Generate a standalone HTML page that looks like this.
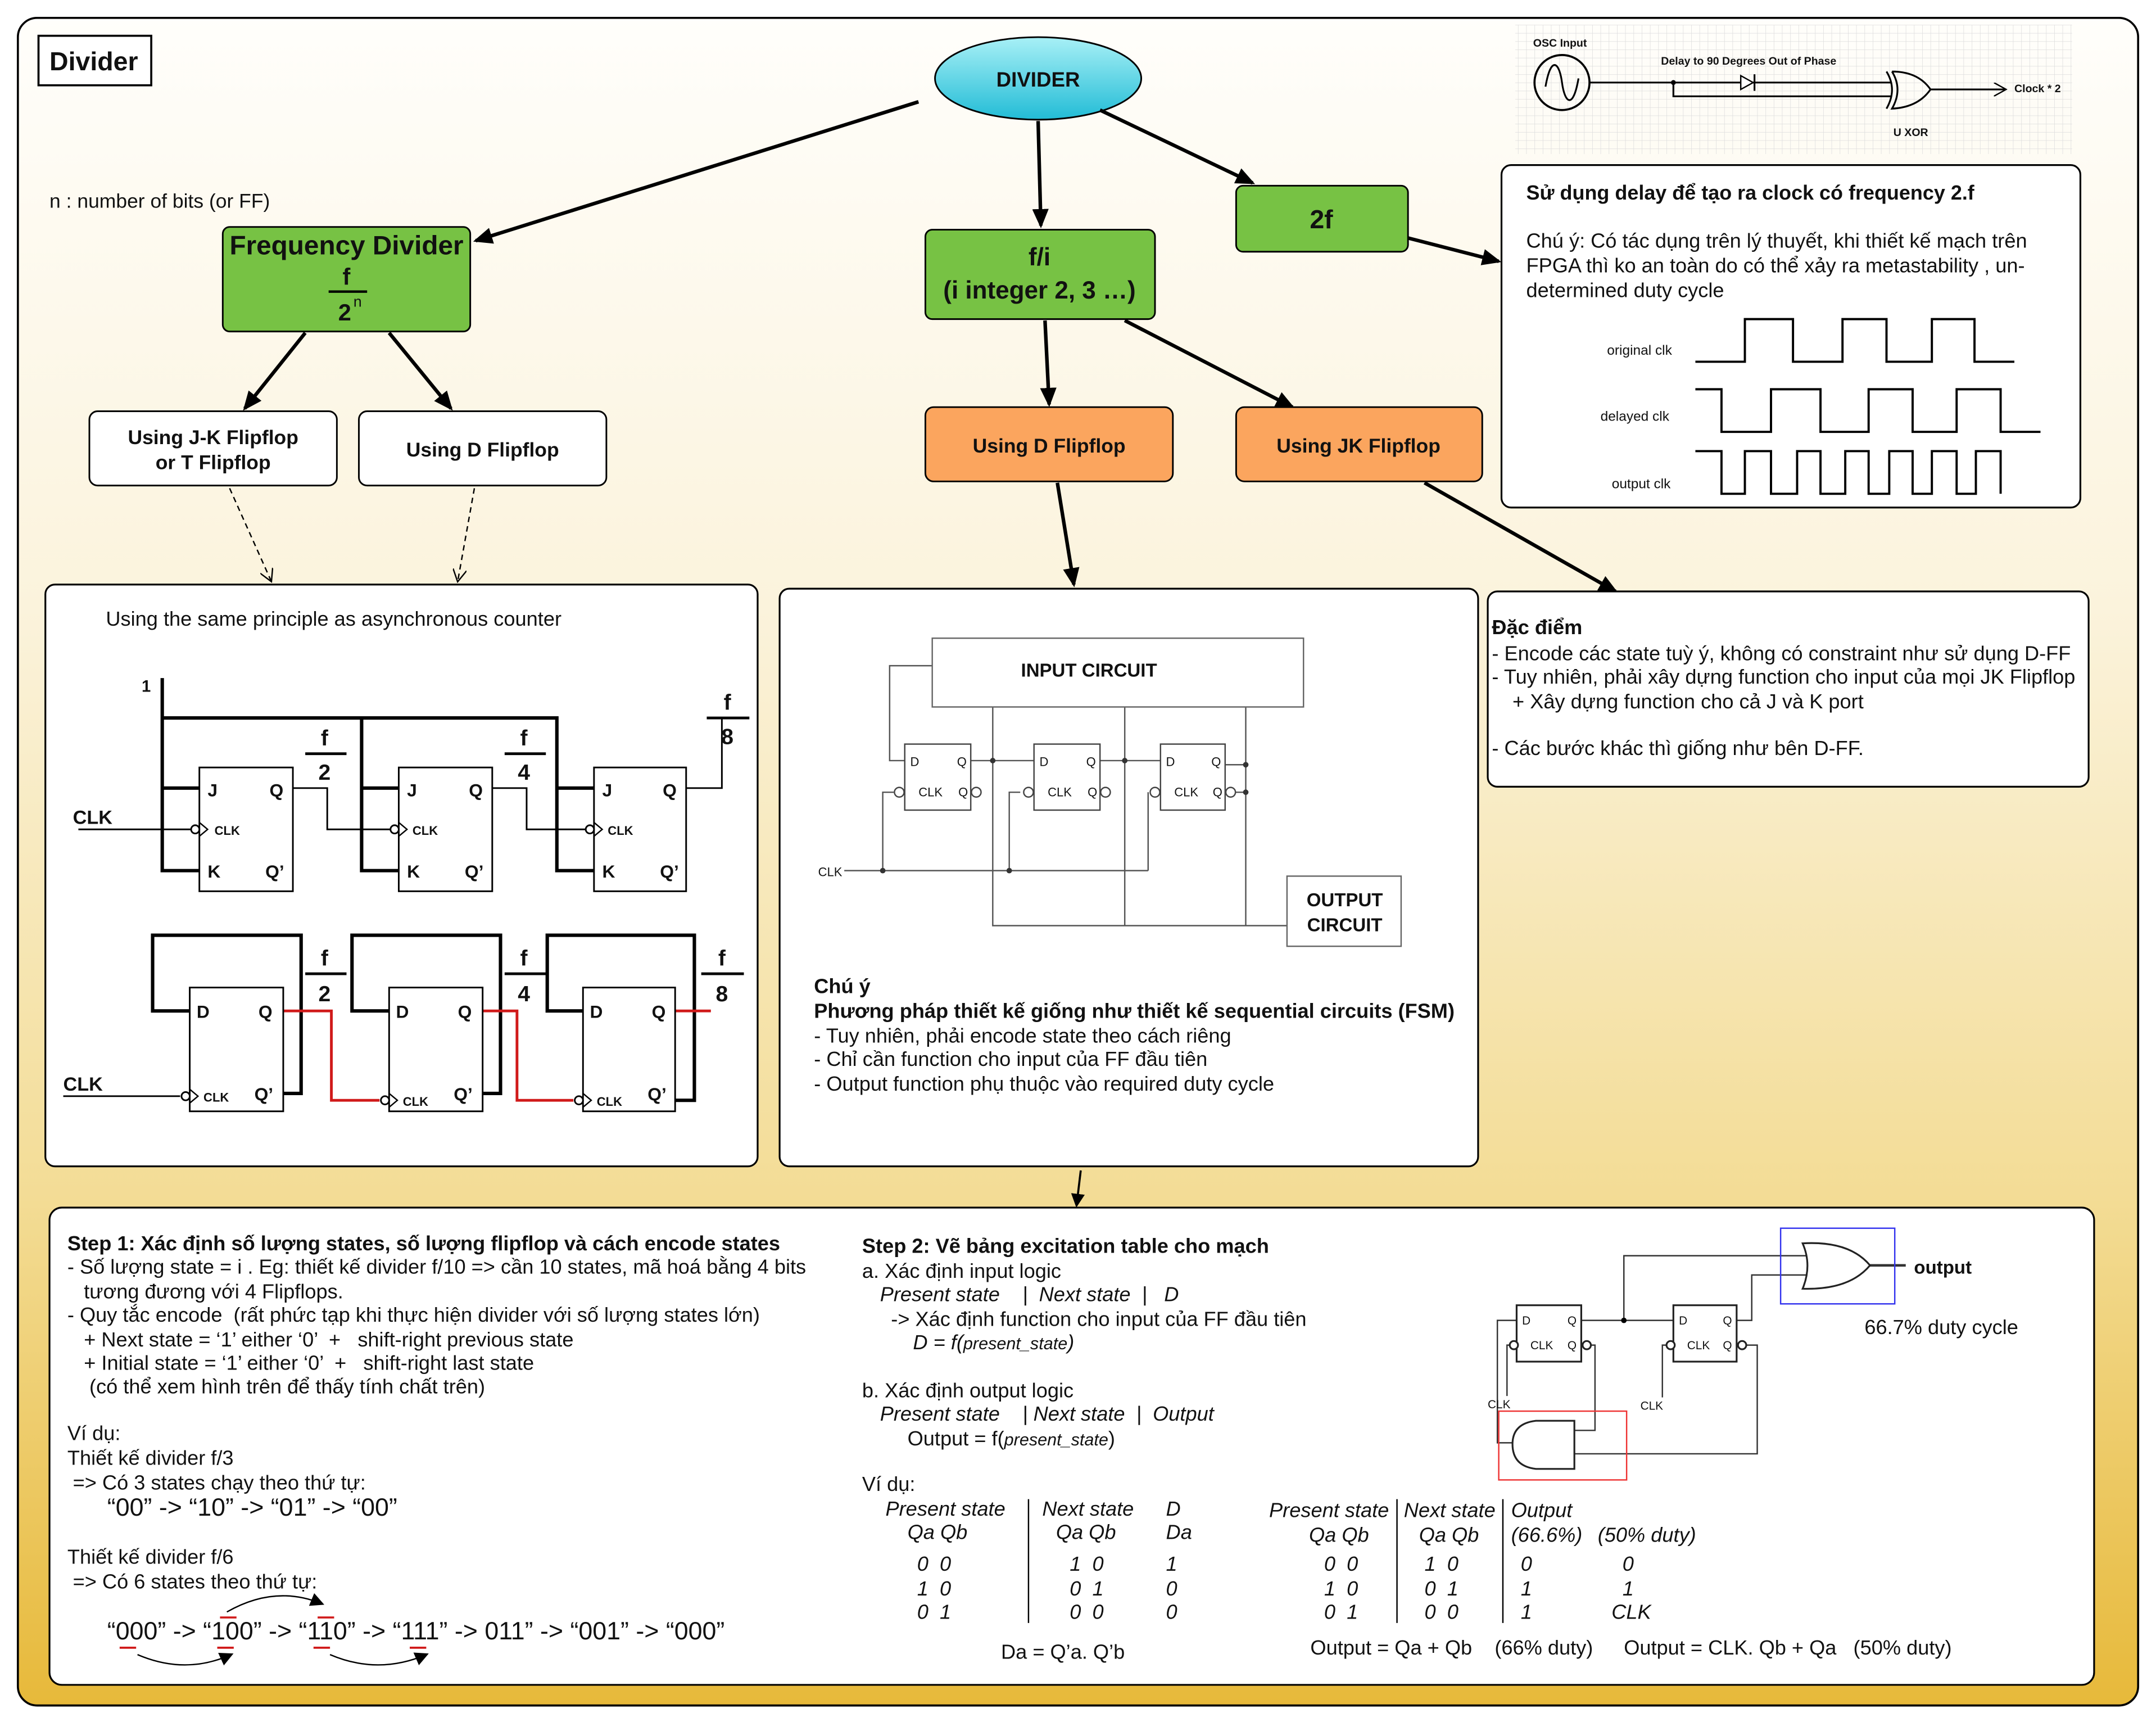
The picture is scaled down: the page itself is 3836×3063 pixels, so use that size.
<!DOCTYPE html>
<html><head><meta charset="utf-8"><style>
html,body{margin:0;padding:0;background:#fff;}
svg{display:block;}
text{font-family:"Liberation Sans","DejaVu Sans",sans-serif;fill:#111;white-space:pre;}
.b{font-weight:bold;}
.i{font-style:italic;}
</style></head><body>
<svg width="3836" height="3063" viewBox="0 0 1568 1252" xmlns="http://www.w3.org/2000/svg" xml:space="preserve">
<defs>
<linearGradient id="bg" x1="0" y1="0" x2="0" y2="1">
<stop offset="0" stop-color="#fffefb"/><stop offset="0.35" stop-color="#fbf3dc"/><stop offset="0.7" stop-color="#f3dc95"/><stop offset="1" stop-color="#e7b93a"/>
</linearGradient>
<linearGradient id="cy" x1="0" y1="0" x2="0" y2="1">
<stop offset="0" stop-color="#a8f0f6"/><stop offset="1" stop-color="#22bcd6"/>
</linearGradient>
<pattern id="grid" width="6" height="6" patternUnits="userSpaceOnUse"><path d="M6 0H0V6" fill="none" stroke="#dcdcdc" stroke-width="0.6"/></pattern>
<marker id="ah" markerWidth="10" markerHeight="10" refX="8" refY="5" orient="auto" markerUnits="userSpaceOnUse"><path d="M0,0 L10,5 L0,10 z" fill="#000"/></marker>
<marker id="ah2" markerWidth="14" markerHeight="12" refX="12" refY="6" orient="auto" markerUnits="userSpaceOnUse"><path d="M0,0 L14,6 L0,12 z" fill="#000"/></marker>
<marker id="op" markerWidth="10" markerHeight="10" refX="8" refY="5" orient="auto" markerUnits="userSpaceOnUse"><path d="M0,0 L9,5 L0,10" fill="none" stroke="#000"/></marker>
</defs>
<rect x="0" y="0" width="1568" height="1252" fill="#fff"/>
<rect x="13" y="13" width="1542" height="1227" rx="14" fill="url(#bg)" stroke="#000" stroke-width="1.5"/>

<!-- title -->
<rect x="28" y="26" width="82" height="36" fill="#fff" stroke="#000" stroke-width="1.5"/>
<text x="36" y="51" class="b" font-size="19">Divider</text>
<ellipse cx="755" cy="57" rx="75" ry="30" fill="url(#cy)" stroke="#000" stroke-width="1.2"/>
<text x="755" y="63" class="b" font-size="15" text-anchor="middle">DIVIDER</text>
<text x="36" y="151" font-size="14.5">n : number of bits (or FF)</text>

<!-- main arrows -->
<g stroke="#000" stroke-width="2.6" fill="none">
<line x1="668" y1="74" x2="346" y2="175" marker-end="url(#ah2)"/>
<line x1="755" y1="88" x2="757" y2="164" marker-end="url(#ah2)"/>
<line x1="800" y1="80" x2="911" y2="133" marker-end="url(#ah2)"/>
<line x1="1024" y1="173" x2="1090" y2="190" marker-end="url(#ah2)"/>
<line x1="222" y1="242" x2="178" y2="297" marker-end="url(#ah2)"/>
<line x1="283" y1="242" x2="328" y2="297" marker-end="url(#ah2)"/>
<line x1="760" y1="233" x2="763" y2="294" marker-end="url(#ah2)"/>
<line x1="818" y1="233" x2="940" y2="296" marker-end="url(#ah2)"/>
<line x1="769" y1="351" x2="781" y2="425" marker-end="url(#ah2)"/>
<line x1="1036" y1="351" x2="1175" y2="430" marker-end="url(#ah2)"/>
<line x1="786" y1="851" x2="783" y2="876" stroke-width="1.5" marker-end="url(#ah)"/>
</g>
<g stroke="#000" stroke-width="1" stroke-dasharray="4,3" fill="none">
<line x1="167" y1="355" x2="197" y2="422" marker-end="url(#op)"/>
<line x1="345" y1="355" x2="333" y2="422" marker-end="url(#op)"/>
</g>

<!-- green boxes -->
<rect x="162" y="165" width="180" height="76" rx="5" fill="#77c244" stroke="#000" stroke-width="1.2"/>
<text x="252" y="185" class="b" font-size="19.5" text-anchor="middle">Frequency Divider</text>
<text x="252" y="207" class="b" font-size="17" text-anchor="middle">f</text>
<line x1="239" y1="212" x2="267" y2="212" stroke="#000" stroke-width="1.8"/>
<text x="246" y="233" class="b" font-size="17">2</text><text x="257" y="223" font-size="11">n</text>
<rect x="673" y="167" width="167" height="65" rx="5" fill="#77c244" stroke="#000" stroke-width="1.2"/>
<text x="756" y="193" class="b" font-size="18" text-anchor="middle">f/i</text>
<text x="756" y="217" class="b" font-size="18" text-anchor="middle">(i integer 2, 3 …)</text>
<rect x="899" y="135" width="125" height="48" rx="5" fill="#77c244" stroke="#000" stroke-width="1.2"/>
<text x="961" y="166" class="b" font-size="19" text-anchor="middle">2f</text>

<rect x="65" y="299" width="180" height="54" rx="6" fill="#fff" stroke="#000" stroke-width="1.2"/>
<text x="155" y="323" class="b" font-size="14.5" text-anchor="middle">Using J-K Flipflop</text>
<text x="155" y="341" class="b" font-size="14.5" text-anchor="middle">or T Flipflop</text>
<rect x="261" y="299" width="180" height="54" rx="6" fill="#fff" stroke="#000" stroke-width="1.2"/>
<text x="351" y="332" class="b" font-size="14.5" text-anchor="middle">Using D Flipflop</text>
<rect x="673" y="296" width="180" height="54" rx="6" fill="#fba55e" stroke="#000" stroke-width="1.2"/>
<text x="763" y="329" class="b" font-size="14.5" text-anchor="middle">Using D Flipflop</text>
<rect x="899" y="296" width="179" height="54" rx="6" fill="#fba55e" stroke="#000" stroke-width="1.2"/>
<text x="988" y="329" class="b" font-size="14.5" text-anchor="middle">Using JK Flipflop</text>

<!-- top-right circuit -->
<rect x="1102" y="18" width="405" height="94" fill="url(#grid)"/>
<text x="1115" y="34" class="b" font-size="8">OSC Input</text>
<text x="1208" y="47" class="b" font-size="8">Delay to 90 Degrees Out of Phase</text>
<circle cx="1136" cy="60" r="20" fill="none" stroke="#000" stroke-width="1.5"/>
<path d="M1124 63 C1128 40 1134 45 1136 60 C1138 75 1144 80 1148 57" fill="none" stroke="#000" stroke-width="1.3"/>
<g stroke="#000" stroke-width="1.3" fill="none">
<line x1="1156" y1="60" x2="1375" y2="60"/>
<polyline points="1217,60 1217,70 1375,70"/>
<path d="M1372 52 Q1380 65 1372 79"/>
<path d="M1376 52 Q1384 65 1376 79 Q1395 78 1404 65 Q1395 52 1376 52"/>
<line x1="1404" y1="65" x2="1458" y2="65" marker-end="url(#op)"/>
</g>
<circle cx="1217" cy="60" r="1.8"/>
<path d="M1266 55 L1275 60 L1266 65 z" fill="#fff" stroke="#000"/><line x1="1276" y1="54" x2="1276" y2="66" stroke="#000" stroke-width="1.3"/>
<text x="1465" y="67" class="b" font-size="8">Clock * 2</text>
<text x="1377" y="99" class="b" font-size="8">U XOR</text>

<!-- top-right box -->
<rect x="1092" y="120" width="421" height="249" rx="7" fill="#fff" stroke="#000" stroke-width="1.3"/>
<text x="1110" y="145" class="b" font-size="14.7">Sử dụng delay để tạo ra clock có frequency 2.f</text>
<text x="1110" y="180" font-size="14.8">Chú ý: Có tác dụng trên lý thuyết, khi thiết kế mạch trên</text>
<text x="1110" y="198" font-size="14.8">FPGA thì ko an toàn do có thể xảy ra metastability , un-</text>
<text x="1110" y="216" font-size="14.8">determined duty cycle</text>
<text x="1216" y="258" font-size="10" text-anchor="end">original clk</text>
<text x="1214" y="306" font-size="10" text-anchor="end">delayed clk</text>
<text x="1215" y="355" font-size="10" text-anchor="end">output clk</text>
<g stroke="#000" stroke-width="1.6" fill="none">
<polyline points="1233,263 1269,263 1269,232 1304,232 1304,263 1340,263 1340,232 1372,232 1372,263 1405,263 1405,232 1436,232 1436,263 1465,263"/>
<polyline points="1233,283 1252,283 1252,314 1288,314 1288,283 1324,283 1324,314 1359,314 1359,283 1391,283 1391,314 1423,314 1423,283 1455,283 1455,314 1484,314"/>
<polyline points="1233,328 1252,328 1252,359 1269,359 1269,328 1288,328 1288,359 1307,359 1307,328 1324,328 1324,359 1342,359 1342,328 1359,328 1359,359 1374,359 1374,328 1391,328 1391,359 1405,359 1405,328 1423,328 1423,359 1437,359 1437,328 1455,328 1455,359"/>
</g>

<!-- left panel -->
<rect x="33" y="425" width="518" height="423" rx="7" fill="#fff" stroke="#000" stroke-width="1.3"/>
<text x="77" y="455" font-size="14.8">Using the same principle as asynchronous counter</text>
<text x="103" y="503" class="b" font-size="12">1</text>
<g stroke="#000" stroke-width="2.5" fill="none">
<polyline points="118,493 118,633 145,633"/>
<line x1="118" y1="573" x2="145" y2="573"/>
<polyline points="118,522 405,522 405,633 432,633"/>
<line x1="405" y1="573" x2="432" y2="573"/>
<polyline points="263,522 263,633 290,633"/>
<line x1="263" y1="573" x2="290" y2="573"/>
</g>
<g stroke="#000" stroke-width="1.2" fill="none">
<line x1="57" y1="603" x2="139" y2="603"/>
<polyline points="213,573 238,573 238,603 284,603"/>
<polyline points="358,573 383,573 383,603 426,603"/>
<polyline points="499,573 525,573 525,522"/>
</g>
<g fill="#fff" stroke="#000" stroke-width="1.2">
<rect x="145" y="558" width="68" height="90"/><rect x="290" y="558" width="68" height="90"/><rect x="432" y="558" width="67" height="90"/>
<circle cx="142" cy="603" r="3"/><circle cx="287" cy="603" r="3"/><circle cx="429" cy="603" r="3"/>
</g>
<g stroke="#000" stroke-width="1" fill="none">
<polyline points="145,598 151,603 145,608"/><polyline points="290,598 296,603 290,608"/><polyline points="432,598 438,603 432,608"/>
</g>
<g font-size="13" class="b">
<text x="151" y="579">J</text><text x="196" y="579">Q</text><text x="151" y="638">K</text><text x="193" y="638">Q’</text>
<text x="296" y="579">J</text><text x="341" y="579">Q</text><text x="296" y="638">K</text><text x="338" y="638">Q’</text>
<text x="438" y="579">J</text><text x="482" y="579">Q</text><text x="438" y="638">K</text><text x="480" y="638">Q’</text>
</g>
<g font-size="9" class="b"><text x="156" y="607">CLK</text><text x="300" y="607">CLK</text><text x="442" y="607">CLK</text></g>
<text x="53" y="599" class="b" font-size="14">CLK</text>
<g class="b" font-size="16" text-anchor="middle">
<text x="236" y="542">f</text><text x="236" y="567">2</text>
<text x="381" y="542">f</text><text x="381" y="567">4</text>
<text x="529" y="516">f</text><text x="529" y="541">8</text>
<text x="236" y="702">f</text><text x="236" y="728">2</text>
<text x="381" y="702">f</text><text x="381" y="728">4</text>
<text x="525" y="702">f</text><text x="525" y="728">8</text>
</g>
<g stroke="#000" stroke-width="2">
<line x1="222" y1="548" x2="252" y2="548"/><line x1="367" y1="548" x2="397" y2="548"/><line x1="514" y1="522" x2="545" y2="522"/>
<line x1="222" y1="708" x2="252" y2="708"/><line x1="367" y1="708" x2="397" y2="708"/><line x1="510" y1="708" x2="541" y2="708"/>
</g>
<!-- D FFs -->
<g stroke="#000" stroke-width="2.5" fill="none">
<polyline points="138,735 111,735 111,680 219,680 219,795 206,795"/>
<polyline points="283,735 256,735 256,680 364,680 364,795 351,795"/>
<polyline points="424,735 398,735 398,680 505,680 505,800 491,800"/>
</g>
<g stroke="#d01a1a" stroke-width="2" fill="none">
<polyline points="206,735 241,735 241,800 276,800"/>
<polyline points="351,735 376,735 376,800 417,800"/>
<line x1="491" y1="735" x2="517" y2="735"/>
</g>
<line x1="46" y1="797" x2="131" y2="797" stroke="#000" stroke-width="1.2"/>
<g fill="#fff" stroke="#000" stroke-width="1.2">
<rect x="138" y="718" width="68" height="90"/><rect x="283" y="718" width="68" height="90"/><rect x="424" y="718" width="67" height="90"/>
<circle cx="135" cy="797" r="3"/><circle cx="280" cy="800" r="3"/><circle cx="421" cy="800" r="3"/>
</g>
<g stroke="#000" stroke-width="1" fill="none">
<polyline points="138,792 144,797 138,802"/><polyline points="283,795 289,800 283,805"/><polyline points="424,795 430,800 424,805"/>
</g>
<g font-size="13" class="b">
<text x="143" y="740">D</text><text x="188" y="740">Q</text><text x="185" y="800">Q’</text>
<text x="288" y="740">D</text><text x="333" y="740">Q</text><text x="330" y="800">Q’</text>
<text x="429" y="740">D</text><text x="474" y="740">Q</text><text x="471" y="800">Q’</text>
</g>
<g font-size="9" class="b"><text x="148" y="801">CLK</text><text x="293" y="804">CLK</text><text x="434" y="804">CLK</text></g>
<text x="46" y="793" class="b" font-size="14">CLK</text>

<!-- middle panel -->
<rect x="567" y="428" width="508" height="420" rx="7" fill="#fff" stroke="#000" stroke-width="1.3"/>
<g stroke="#555" stroke-width="1" fill="none">
<polyline points="678,484 647,484 647,553 658,553"/>
<line x1="706" y1="553" x2="752" y2="553"/><line x1="800" y1="553" x2="844" y2="553"/>
<polyline points="722,514 722,673 936,673"/>
<line x1="818" y1="514" x2="818" y2="673"/>
<polyline points="891,556 906,556 906,673"/>
<line x1="906" y1="514" x2="906" y2="556"/>
<line x1="891" y1="576" x2="906" y2="576"/>
<line x1="614" y1="633" x2="835" y2="633"/>
<polyline points="642,633 642,576 650,576"/>
<polyline points="734,633 734,576 742,576"/>
<polyline points="835,633 835,576"/>
</g>
<g fill="#333"><circle cx="642" cy="633" r="2"/><circle cx="734" cy="633" r="2"/><circle cx="722" cy="553" r="2"/><circle cx="818" cy="553" r="2"/><circle cx="906" cy="556" r="2"/><circle cx="906" cy="576" r="2"/></g>
<rect x="678" y="464" width="270" height="50" fill="#fff" stroke="#666"/>
<text x="792" y="492" class="b" font-size="13.5" text-anchor="middle" fill="#333">INPUT CIRCUIT</text>
<g fill="#fff" stroke="#444" stroke-width="1">
<rect x="658" y="541" width="48" height="48"/><rect x="752" y="541" width="48" height="48"/><rect x="844" y="541" width="47" height="48"/>
<circle cx="654" cy="576" r="3.5"/><circle cx="710" cy="576" r="3.5"/><circle cx="748" cy="576" r="3.5"/><circle cx="804" cy="576" r="3.5"/><circle cx="840" cy="576" r="3.5"/><circle cx="895" cy="576" r="3.5"/>
</g>
<g font-size="9" fill="#444">
<text x="662" y="557">D</text><text x="696" y="557">Q</text><text x="668" y="579">CLK</text><text x="697" y="579">Q</text>
<text x="756" y="557">D</text><text x="790" y="557">Q</text><text x="762" y="579">CLK</text><text x="791" y="579">Q</text>
<text x="848" y="557">D</text><text x="881" y="557">Q</text><text x="854" y="579">CLK</text><text x="882" y="579">Q</text>
<text x="595" y="637">CLK</text>
</g>
<rect x="936" y="637" width="83" height="51" fill="#fff" stroke="#666"/>
<text x="978" y="659" class="b" font-size="13.5" text-anchor="middle" fill="#333">OUTPUT</text>
<text x="978" y="677" class="b" font-size="13.5" text-anchor="middle" fill="#333">CIRCUIT</text>
<g font-size="14.8">
<text x="592" y="722" class="b">Chú ý</text>
<text x="592" y="740" class="b">Phương pháp thiết kế giống như thiết kế sequential circuits (FSM)</text>
<text x="592" y="758">- Tuy nhiên, phải encode state theo cách riêng</text>
<text x="592" y="775">- Chỉ cần function cho input của FF đầu tiên</text>
<text x="592" y="793">- Output function phụ thuộc vào required duty cycle</text>
</g>

<!-- right panel -->
<rect x="1082" y="430" width="437" height="142" rx="7" fill="#fff" stroke="#000" stroke-width="1.3"/>
<g font-size="14.8">
<text x="1085" y="461" class="b">Đặc điểm</text>
<text x="1085" y="480">- Encode các state tuỳ ý, không có constraint như sử dụng D-FF</text>
<text x="1085" y="497">- Tuy nhiên, phải xây dựng function cho input của mọi JK Flipflop</text>
<text x="1100" y="515">+ Xây dựng function cho cả J và K port</text>
<text x="1085" y="549">- Các bước khác thì giống như bên D-FF.</text>
</g>

<!-- bottom panel -->
<rect x="36" y="878" width="1487" height="347" rx="9" fill="#fff" stroke="#000" stroke-width="1.3"/>
<g font-size="14.8">
<text x="49" y="909" class="b">Step 1: Xác định số lượng states, số lượng flipflop và cách encode states</text>
<text x="49" y="926">- Số lượng state = i . Eg: thiết kế divider f/10 =&gt; cần 10 states, mã hoá bằng 4 bits</text>
<text x="61" y="944">tương đương với 4 Flipflops.</text>
<text x="49" y="961">- Quy tắc encode  (rất phức tạp khi thực hiện divider với số lượng states lớn)</text>
<text x="61" y="979">+ Next state = ‘1’ either ‘0’  +   shift-right previous state</text>
<text x="61" y="996">+ Initial state = ‘1’ either ‘0’  +   shift-right last state</text>
<text x="65" y="1013">(có thể xem hình trên để thấy tính chất trên)</text>
<text x="49" y="1047">Ví dụ:</text>
<text x="49" y="1065">Thiết kế divider f/3</text>
<text x="53" y="1083">=&gt; Có 3 states chạy theo thứ tự:</text>
<text x="78" y="1102" font-size="18.3">“00” -&gt; “10” -&gt; “01” -&gt; “00”</text>
<text x="49" y="1137">Thiết kế divider f/6</text>
<text x="53" y="1155">=&gt; Có 6 states theo thứ tự:</text>
<text x="78" y="1192" font-size="18.3">“000” -&gt; “100” -&gt; “110” -&gt; “111” -&gt; 011” -&gt; “001” -&gt; “000”</text>
</g>
<g stroke="#d01a1a" stroke-width="1.5">
<line x1="87" y1="1198" x2="99" y2="1198"/><line x1="158" y1="1198" x2="170" y2="1198"/><line x1="228" y1="1198" x2="240" y2="1198"/><line x1="298" y1="1198" x2="310" y2="1198"/>
<line x1="160" y1="1176" x2="172" y2="1176"/><line x1="231" y1="1176" x2="243" y2="1176"/>
</g>
<g stroke="#000" stroke-width="1" fill="none">
<path d="M100 1203 Q135 1218 168 1203" marker-end="url(#ah)"/>
<path d="M240 1203 Q275 1218 310 1203" marker-end="url(#ah)"/>
<path d="M165 1172 Q200 1152 234 1166" marker-end="url(#ah)"/>
</g>

<g font-size="14.8">
<text x="627" y="911" class="b">Step 2: Vẽ bảng excitation table cho mạch</text>
<text x="627" y="929">a. Xác định input logic</text>
<text x="640" y="946" class="i">Present state    |  Next state  |   D</text>
<text x="648" y="964">-&gt; Xác định function cho input của FF đầu tiên</text>
<text x="664" y="981" class="i">D = f(<tspan font-size="12.5">present_state</tspan>)</text>
<text x="627" y="1016">b. Xác định output logic</text>
<text x="640" y="1033" class="i">Present state    | Next state  |  Output</text>
<text x="660" y="1051">Output = f(<tspan class="i" font-size="12.5">present_state</tspan>)</text>
<text x="627" y="1084">Ví dụ:</text>
<g class="i">
<text x="644" y="1102">Present state</text><text x="758" y="1102">Next state</text><text x="848" y="1102">D</text>
<text x="660" y="1119">Qa Qb</text><text x="768" y="1119">Qa Qb</text><text x="848" y="1119">Da</text>
<text x="667" y="1142">0  0</text><text x="778" y="1142">1  0</text><text x="848" y="1142">1</text>
<text x="667" y="1160">1  0</text><text x="778" y="1160">0  1</text><text x="848" y="1160">0</text>
<text x="667" y="1177">0  1</text><text x="778" y="1177">0  0</text><text x="848" y="1177">0</text>
<text x="923" y="1103">Present state</text><text x="1021" y="1103">Next state</text><text x="1099" y="1103">Output</text>
<text x="952" y="1121">Qa Qb</text><text x="1032" y="1121">Qa Qb</text><text x="1099" y="1121">(66.6%)</text><text x="1162" y="1121">(50% duty)</text>
<text x="963" y="1142">0  0</text><text x="1036" y="1142">1  0</text><text x="1106" y="1142">0</text><text x="1180" y="1142">0</text>
<text x="963" y="1160">1  0</text><text x="1036" y="1160">0  1</text><text x="1106" y="1160">1</text><text x="1180" y="1160">1</text>
<text x="963" y="1177">0  1</text><text x="1036" y="1177">0  0</text><text x="1106" y="1177">1</text><text x="1172" y="1177">CLK</text>
</g>
<text x="728" y="1206">Da = Q’a. Q’b</text>
<text x="953" y="1203">Output = Qa + Qb    (66% duty)</text>
<text x="1181" y="1203">Output = CLK. Qb + Qa   (50% duty)</text>
</g>
<g stroke="#000" stroke-width="1">
<line x1="748" y1="1090" x2="748" y2="1180"/><line x1="1016" y1="1090" x2="1016" y2="1180"/><line x1="1093" y1="1090" x2="1093" y2="1180"/>
</g>

<!-- bottom right circuit -->
<g stroke="#333" stroke-width="1" fill="none">
<polyline points="1181,960 1181,913 1314,913"/>
<polyline points="1263,960 1274,960 1274,927 1314,927"/>
<line x1="1150" y1="960" x2="1217" y2="960"/>
<polyline points="1103,960 1089,960 1089,1049 1100,1049"/>
<polyline points="1103,978 1096,978 1096,1015"/>
<polyline points="1217,978 1209,978 1209,1016"/>
<polyline points="1155,978 1160,978 1160,1040 1145,1040"/>
<polyline points="1267,978 1278,978 1278,1057 1145,1057"/>
<line x1="1360" y1="920" x2="1386" y2="920" stroke-width="1.8"/>
</g>
<circle cx="1181" cy="960" r="2" fill="#000"/>
<g fill="#fff" stroke="#222" stroke-width="1.3">
<rect x="1103" y="949" width="47" height="41"/><rect x="1217" y="949" width="46" height="41"/>
<circle cx="1101" cy="978" r="3"/><circle cx="1154" cy="978" r="3"/><circle cx="1215" cy="978" r="3"/><circle cx="1267" cy="978" r="3"/>
<path d="M1311 904 Q1345 902 1360 920 Q1345 938 1311 937 Q1318 920 1311 904 z"/>
<path d="M1145 1033 L1145 1068 L1117 1068 Q1100 1066 1100 1050 Q1100 1035 1117 1033 z"/>
</g>
<g font-size="8.5" fill="#333">
<text x="1107" y="963">D</text><text x="1140" y="963">Q</text><text x="1113" y="981">CLK</text><text x="1140" y="981">Q</text>
<text x="1221" y="963">D</text><text x="1253" y="963">Q</text><text x="1227" y="981">CLK</text><text x="1253" y="981">Q</text>
<text x="1082" y="1024">CLK</text><text x="1193" y="1025">CLK</text>
</g>
<rect x="1295" y="893" width="83" height="55" fill="none" stroke="#3333ee" stroke-width="1"/>
<rect x="1090" y="1026" width="93" height="50" fill="none" stroke="#ee3333" stroke-width="1"/>
<text x="1392" y="926" class="b" font-size="13.5">output</text>
<text x="1356" y="970" font-size="14.8">66.7% duty cycle</text>
</svg>
</body></html>
